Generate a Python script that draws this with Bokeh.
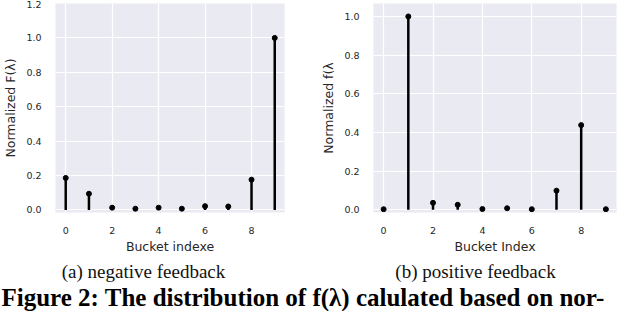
from bokeh.plotting import figure
from bokeh.layouts import row, column
from bokeh.models import Range1d, FixedTicker, NumeralTickFormatter
from bokeh.core.properties import value
from bokeh.embed import file_html
from bokeh.resources import INLINE

# ---- data ----
buckets = [0, 1, 2, 3, 4, 5, 6, 7, 8, 9]
neg_vals = [0.186, 0.094, 0.013, 0.007, 0.013, 0.007, 0.022, 0.020, 0.176, 1.0]
pos_vals = [0.003, 1.0, 0.036, 0.026, 0.004, 0.008, 0.003, 0.099, 0.438, 0.003]
x_ticks = [0, 2, 4, 6, 8]
neg_y_ticks = [0.0, 0.2, 0.4, 0.6, 0.8, 1.0, 1.2]
pos_y_ticks = [0.0, 0.2, 0.4, 0.6, 0.8, 1.0]
neg_xlabel = "Bucket indexe"
pos_xlabel = "Bucket Index"
neg_ylabel = "Normalized F(\u03bb)"
pos_ylabel = "Normalized f(\u03bb"
sub_a = "(a) negative feedback"
sub_b = "(b) positive feedback"
main_caption = "Figure 2: The distribution of f(\u03bb) calulated based on nor-"

BG = "#eaeaf2"
TXT = "#262626"
ROW_H = 262


def stem_panel(vals, yticks, xlabel, ylabel, xr, yr, bl, br, bb):
    p = figure(width=312, height=ROW_H, output_backend="svg", toolbar_location=None,
               x_range=Range1d(*xr), y_range=Range1d(*yr),
               min_border_left=bl, min_border_right=br, min_border_top=3,
               min_border_bottom=bb)
    p.background_fill_color = BG
    p.border_fill_color = "white"
    p.outline_line_color = None
    p.grid.grid_line_color = "white"
    p.grid.grid_line_width = 1.2
    for ax in (p.xaxis[0], p.yaxis[0]):
        ax.axis_line_color = None
        ax.major_tick_line_color = None
        ax.minor_tick_line_color = None
        ax.major_label_text_font = "DejaVu Sans"
        ax.major_label_text_font_size = "9.5px"
        ax.major_label_text_color = TXT
        ax.axis_label_text_font = "DejaVu Sans"
        ax.axis_label_text_font_size = "12.5px"
        ax.axis_label_text_font_style = "normal"
        ax.axis_label_text_color = TXT
        ax.major_label_standoff = 8
    p.xaxis.ticker = FixedTicker(ticks=x_ticks)
    p.yaxis.ticker = FixedTicker(ticks=yticks)
    p.yaxis.formatter = NumeralTickFormatter(format="0.0")
    p.xaxis.axis_label = xlabel
    p.yaxis.axis_label = ylabel
    p.xaxis.axis_label_standoff = 2
    p.yaxis.axis_label_standoff = 5
    p.segment(x0=buckets, y0=[0] * len(buckets), x1=buckets, y1=vals,
              line_color="black", line_width=2.5)
    p.scatter(x=buckets, y=vals, size=5, color="black", marker="circle")
    return p


p1 = stem_panel(neg_vals, neg_y_ticks, neg_xlabel, neg_ylabel,
                (-0.44, 9.42), (-0.015, 1.2), 43, 28, 50)
p2 = stem_panel(pos_vals, pos_y_ticks, pos_xlabel, pos_ylabel,
                (-0.41, 9.43), (-0.014, 1.067), 61, 8, 48)

# caption area: coordinates in page pixels
cap = figure(width=624, height=311 - ROW_H, output_backend="svg", toolbar_location=None,
             x_range=Range1d(8, 632), y_range=Range1d(319, 8 + ROW_H),
             min_border=0)
cap.axis.visible = False
cap.grid.visible = False
cap.outline_line_color = None
cap.background_fill_color = "white"
cap.text(x=[151, 483], y=[279, 279], text=[sub_a, sub_b],
         text_font=value("Liberation Serif"), text_font_size="19px",
         text_color="#111111", text_align="center", text_baseline="middle")
cap.text(x=[9], y=[305], text=[main_caption],
         text_font=value("Liberation Serif"), text_font_size="25px",
         text_font_style="bold", text_color="#000000",
         text_align="left", text_baseline="alphabetic")

layout = column(row(p1, p2, spacing=0), cap, spacing=0)
open("out.html", "w").write(file_html(layout, INLINE))
